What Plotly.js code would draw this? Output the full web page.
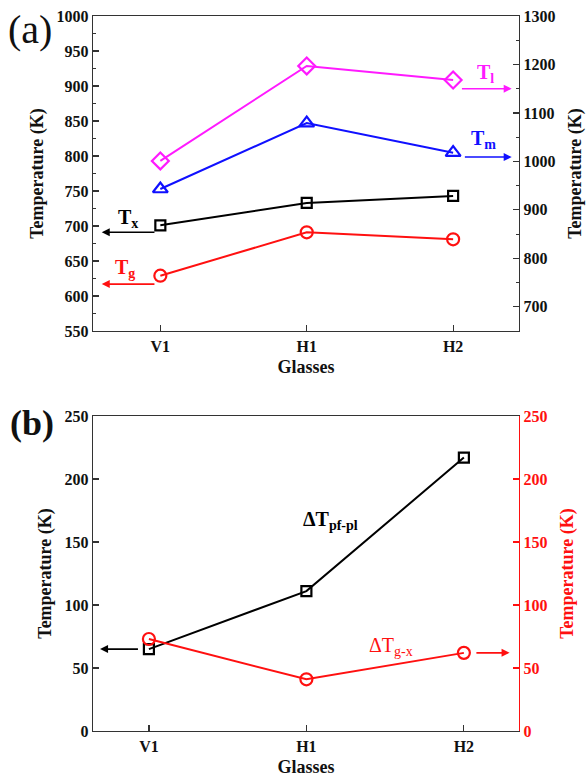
<!DOCTYPE html>
<html><head><meta charset="utf-8">
<script src="https://cdn.plot.ly/plotly-3.0.1.min.js"></script>
<style>html,body{margin:0;padding:0;background:#fff}#c{width:586px;height:778px}</style>
</head><body><div id="c"></div>
<script>
const glasses = ['V1','H1','H2'];
// Panel (a)
const Tl = [1001, 1197, 1168];   // right axis
const Tm = [943, 1079, 1018];    // right axis
const Tx = [701, 733, 743];      // left axis
const Tg = [629, 691, 681];      // left axis
// Panel (b)
const dTpfpl = [65, 111, 217];   // left axis
const dTgx = [73, 41, 62];       // right axis

const F = 'Liberation Serif';
const MAG = '#ff1aff', BLU = '#1010ff', RED = '#ff1010', BLK = '#000000';

function tr(y, xa, ya, color, symbol, size) {
  return {x: glasses, y: y, xaxis: xa, yaxis: ya, type: 'scatter', mode: 'lines+markers',
    line: {color: color, width: 2}, cliponaxis: false,
    marker: {symbol: symbol, size: size, color: color, line: {color: color, width: 2.2}}};
}
const data = [
  tr(Tl, 'x', 'y2', MAG, 'diamond-open', 13),
  tr(Tm, 'x', 'y2', BLU, 'triangle-up-open', 13),
  tr(Tx, 'x', 'y', BLK, 'square-open', 10),
  tr(Tg, 'x', 'y', RED, 'circle-open', 12),
  tr(dTpfpl, 'x2', 'y3', BLK, 'square-open', 10),
  tr(dTgx, 'x2', 'y4', RED, 'circle-open', 12)
];

const tickF = {family: F, size: 16, color: '#111', weight: 'bold'};
const titleF = {family: F, size: 18, color: '#111', weight: 'bold'};
function yax(o) {
  return Object.assign({showline: true, linecolor: '#333', linewidth: 1.3, ticks: 'inside', ticklen: 6,
    tickwidth: 1.2, tickcolor: '#333', showgrid: false, zeroline: false, tickfont: tickF}, o);
}
function xax(o) {
  return Object.assign({type: 'category', showline: true, mirror: true, linecolor: '#333', linewidth: 1.3,
    ticks: 'inside', ticklen: 6, tickwidth: 1.2, tickcolor: '#333', showgrid: false, zeroline: false,
    tickfont: tickF, title: {text: '<b>Glasses</b>', font: titleF, standoff: 7}}, o);
}
const redF = Object.assign({}, tickF, {color: RED});
const ttl = '<b>Temperature (K)</b>';
const layout = {
  width: 586, height: 778, showlegend: false,
  paper_bgcolor: '#fff', plot_bgcolor: '#fff',
  font: {family: F},
  margin: {l: 93, r: 67, t: 16, b: 47},
  xaxis: xax({domain: [0, 1], anchor: 'y', range: [-0.46, 2.45]}),
  yaxis: yax({domain: [0.5594, 1], anchor: 'x', range: [550, 1000], dtick: 50,
    minor: {dtick: 25, ticks: 'inside', ticklen: 3, tickcolor: '#333'},
    title: {text: ttl, font: titleF, standoff: 8}}),
  yaxis2: yax({overlaying: 'y', side: 'right', anchor: 'x', range: [650, 1300], dtick: 100,
    minor: {dtick: 50, ticks: 'inside', ticklen: 3, tickcolor: '#333'},
    title: {text: ttl, font: titleF, standoff: 14}}),
  xaxis2: xax({domain: [0, 1], anchor: 'y3', range: [-0.355, 2.35]}),
  yaxis3: yax({domain: [0, 0.4406], anchor: 'x2', range: [0, 250], dtick: 50,
    title: {text: ttl, font: titleF, standoff: 8}}),
  yaxis4: yax({overlaying: 'y3', side: 'right', anchor: 'x2', range: [0, 250], dtick: 50,
    linecolor: RED, tickcolor: RED, tickfont: redF,
    title: {text: ttl, font: Object.assign({}, titleF, {color: RED}), standoff: 14}}),
  annotations: [
    {xref: 'paper', yref: 'paper', x: -0.205, y: 1.016, xanchor: 'left', yanchor: 'top', showarrow: false,
      text: '(a)', font: {family: F, size: 40, color: '#111'}},
    {xref: 'paper', yref: 'paper', x: -0.2, y: 0.462, xanchor: 'left', yanchor: 'top', showarrow: false,
      text: '<b>(b)</b>', font: {family: F, size: 36, color: '#111'}},
    // arrows (a)
    {xref: 'x', yref: 'y2', axref: 'x', ayref: 'y2', x: 2.40, y: 1150, ax: 2.05, ay: 1150, text: '',
      showarrow: true, arrowhead: 2, arrowsize: 1, arrowwidth: 1.6, arrowcolor: MAG},
    {xref: 'x', yref: 'y2', axref: 'x', ayref: 'y2', x: 2.40, y: 1009, ax: 2.07, ay: 1009, text: '',
      showarrow: true, arrowhead: 2, arrowsize: 1, arrowwidth: 1.6, arrowcolor: BLU},
    {xref: 'x', yref: 'y', axref: 'x', ayref: 'y', x: -0.40, y: 691, ax: -0.03, ay: 691, text: '',
      showarrow: true, arrowhead: 2, arrowsize: 1, arrowwidth: 1.6, arrowcolor: BLK},
    {xref: 'x', yref: 'y', axref: 'x', ayref: 'y', x: -0.40, y: 617, ax: -0.03, ay: 617, text: '',
      showarrow: true, arrowhead: 2, arrowsize: 1, arrowwidth: 1.6, arrowcolor: RED},
    // labels (a)
    {xref: 'x', yref: 'y2', x: 2.22, y: 1182, showarrow: false, text: '<b>T<sub>l</sub></b>',
      font: {family: F, size: 20, color: MAG}},
    {xref: 'x', yref: 'y2', x: 2.21, y: 1046, showarrow: false, text: '<b>T<sub>m</sub></b>',
      font: {family: F, size: 20, color: BLU}},
    {xref: 'x', yref: 'y', x: -0.22, y: 711, showarrow: false, text: '<b>T<sub>x</sub></b>',
      font: {family: F, size: 20, color: BLK}},
    {xref: 'x', yref: 'y', x: -0.24, y: 639, showarrow: false, text: '<b>T<sub>g</sub></b>',
      font: {family: F, size: 20, color: RED}},
    // arrows (b)
    {xref: 'x2', yref: 'y3', axref: 'x2', ayref: 'y3', x: -0.31, y: 65, ax: -0.06, ay: 65, text: '',
      showarrow: true, arrowhead: 2, arrowsize: 1, arrowwidth: 1.6, arrowcolor: BLK},
    {xref: 'x2', yref: 'y4', axref: 'x2', ayref: 'y4', x: 2.29, y: 62, ax: 2.07, ay: 62, text: '',
      showarrow: true, arrowhead: 2, arrowsize: 1, arrowwidth: 1.6, arrowcolor: RED},
    // labels (b)
    {xref: 'x2', yref: 'y3', x: 1.15, y: 167, showarrow: false, text: '<b>ΔT<sub>pf-pl</sub></b>',
      font: {family: F, size: 20, color: BLK}},
    {xref: 'x2', yref: 'y4', x: 1.54, y: 67, showarrow: false, text: 'ΔT<sub>g-x</sub>',
      font: {family: F, size: 20, color: RED}}
  ]
};
Plotly.newPlot('c', data, layout, {displayModeBar: false, staticPlot: true});
</script>
</body></html>
